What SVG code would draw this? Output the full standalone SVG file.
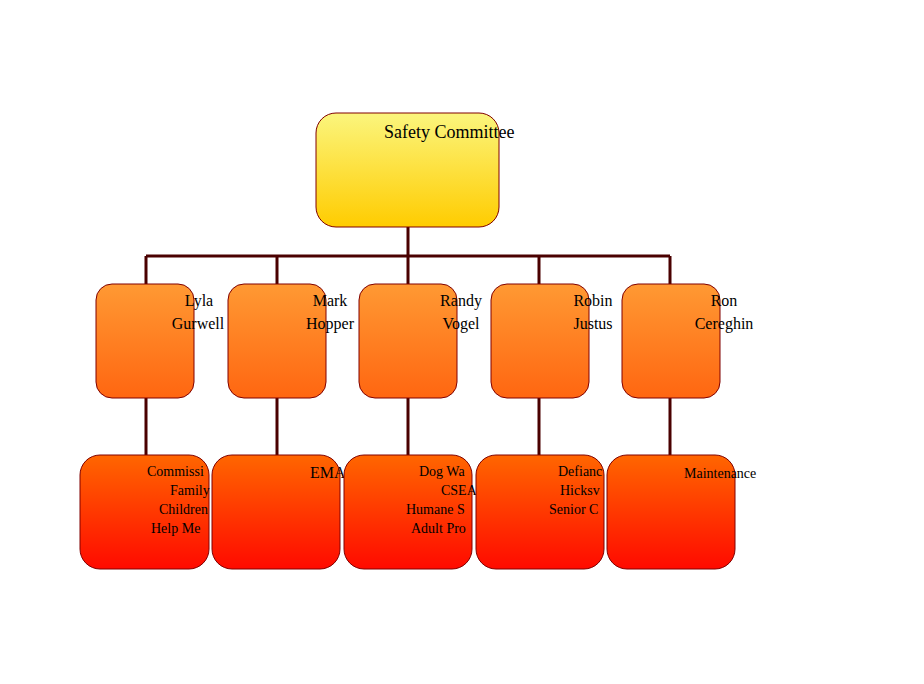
<svg xmlns="http://www.w3.org/2000/svg" width="924" height="684" viewBox="0 0 924 684">
<defs>
<linearGradient id="gy" x1="0" y1="0" x2="0" y2="1"><stop offset="0" stop-color="#fbf57d"/><stop offset="1" stop-color="#ffcc00"/></linearGradient>
<linearGradient id="go" x1="0" y1="0" x2="0" y2="1"><stop offset="0" stop-color="#ff9933"/><stop offset="1" stop-color="#ff6611"/></linearGradient>
<linearGradient id="gr" x1="0" y1="0" x2="0" y2="1"><stop offset="0" stop-color="#ff6600"/><stop offset="1" stop-color="#ff0a00"/></linearGradient>
<style>
rect{stroke:#800000;stroke-width:1}
text{font-family:"Liberation Serif",serif;fill:#000}
.t{font-size:18px}.m{font-size:16px}.s{font-size:14px}
.c{fill:none;stroke:#4a0000;stroke-width:3}
</style>
</defs>
<rect width="924" height="684" fill="#fff" style="stroke:none"/>
<g id="connectors" class="c">
<path class="c" d="M408 227V256M146 256H670M146 256V284M277 256V284M408 256V284M539 256V284M670 256V284M146 398V455M277 398V455M408 398V455M539 398V455M670 398V455"/>
</g>
<g id="n0"><rect x="316" y="113" width="183" height="114" rx="20" fill="url(#gy)"/><text class="t" x="384" y="138">Safety Committee</text></g>
<g id="n1"><rect x="96" y="284" width="98" height="114" rx="16" fill="url(#go)"/><text class="m" x="199" y="306" text-anchor="middle">Lyla</text><text class="m" x="198" y="329" text-anchor="middle">Gurwell</text></g>
<g id="n2"><rect x="228" y="284" width="98" height="114" rx="16" fill="url(#go)"/><text class="m" x="330" y="306" text-anchor="middle">Mark</text><text class="m" x="330" y="329" text-anchor="middle">Hopper</text></g>
<g id="n3"><rect x="359" y="284" width="98" height="114" rx="16" fill="url(#go)"/><text class="m" x="461" y="306" text-anchor="middle">Randy</text><text class="m" x="461" y="329" text-anchor="middle">Vogel</text></g>
<g id="n4"><rect x="491" y="284" width="98" height="114" rx="16" fill="url(#go)"/><text class="m" x="593" y="306" text-anchor="middle">Robin</text><text class="m" x="593" y="329" text-anchor="middle">Justus</text></g>
<g id="n5"><rect x="622" y="284" width="98" height="114" rx="16" fill="url(#go)"/><text class="m" x="724" y="306" text-anchor="middle">Ron</text><text class="m" x="724" y="329" text-anchor="middle">Cereghin</text></g>
<g id="b1"><rect x="80" y="455" width="129" height="114" rx="20" fill="url(#gr)"/><text class="s" x="147" y="476">Commissi</text><text class="s" x="170" y="495">Family</text><text class="s" x="159" y="514">Children</text><text class="s" x="151" y="533">Help Me</text></g>
<g id="b2"><rect x="212" y="455" width="128" height="114" rx="20" fill="url(#gr)"/><text class="m" x="310" y="478">EMA</text></g>
<g id="b3"><rect x="344" y="455" width="128" height="114" rx="20" fill="url(#gr)"/><text class="s" x="419" y="476">Dog Wa</text><text class="s" x="441" y="495">CSEA</text><text class="s" x="406" y="514">Humane S</text><text class="s" x="411" y="533">Adult Pro</text></g>
<g id="b4"><rect x="476" y="455" width="128" height="114" rx="20" fill="url(#gr)"/><text class="s" x="558" y="476">Defianc</text><text class="s" x="560" y="495">Hicksv</text><text class="s" x="549" y="514">Senior C</text></g>
<g id="b5"><rect x="607" y="455" width="128" height="114" rx="20" fill="url(#gr)"/><text class="s" x="684" y="478">Maintenance</text></g>
</svg>
